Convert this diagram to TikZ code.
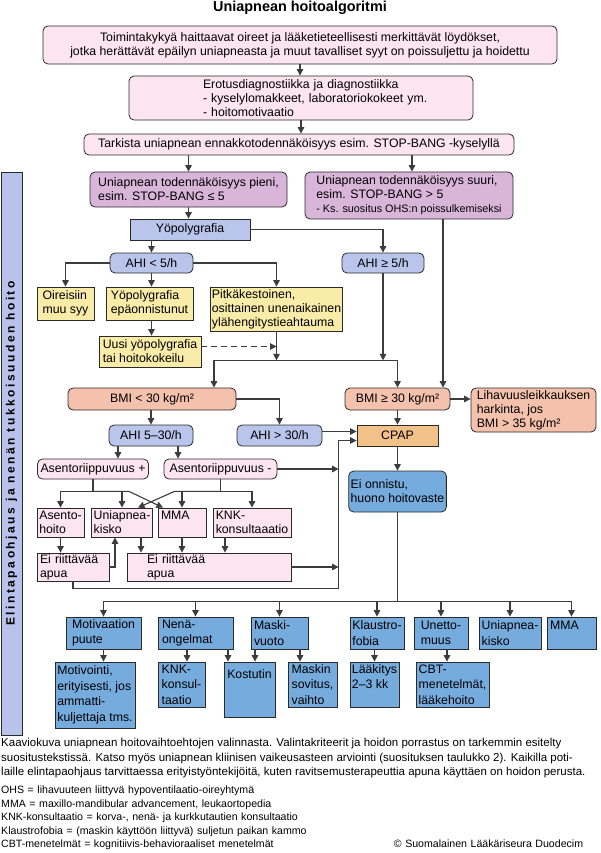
\documentclass[tikz,border=0pt]{standalone}
\usepackage{fontspec}
\setmainfont{Liberation Sans}
\newfontfamily\palkkifont[LetterSpace=21]{Liberation Sans}
\usetikzlibrary{arrows.meta}
\definecolor{reuna}{HTML}{2A2A2A}
\definecolor{viivavari}{HTML}{3C3C3C}
\definecolor{vpun}{HTML}{FCE5EE}
\definecolor{viol}{HTML}{DAB5DA}
\definecolor{lav}{HTML}{B9C5EA}
\definecolor{kelt}{HTML}{F9EBA8}
\definecolor{lohi}{HTML}{F4C1AD}
\definecolor{ruskea}{HTML}{F2C089}
\definecolor{sin}{HTML}{76ABDE}
\definecolor{palkki}{HTML}{B8C2EA}

\begin{document}
\begin{tikzpicture}[x=1pt,y=-1pt,
  teksti/.style={font=\fontsize{12.3}{14}\selectfont, text=black},
  laatikko/.style={teksti, draw=reuna, line width=0.8pt, inner xsep=2pt, inner ysep=1pt, align=left},
  pyorea/.style={laatikko, rounded corners=5pt},
  wh/.style 2 args={minimum width=#1, minimum height=#2},
  sisennys/.style 2 args={text width=#1-4, execute at begin node={\leftskip=#2pt\relax}},
  pun/.style={pyorea, fill=vpun},
  punlaat/.style={laatikko, fill=vpun},
  viol/.style={pyorea, fill=viol},
  lavlaat/.style={laatikko, fill=lav},
  lavpyor/.style={pyorea, fill=lav},
  kelt/.style={laatikko, fill=kelt},
  lohi/.style={pyorea, fill=lohi},
  cpaplaat/.style={laatikko, fill=ruskea},
  sinpyor/.style={pyorea, fill=sin},
  sinlaat/.style={laatikko, fill=sin, font=\fontsize{12.3}{15.5}\selectfont},
  viiva/.style={draw=viivavari, line width=1.1pt},
  nuoli/.style={viiva, -{Triangle[length=6.5pt,width=6.5pt]}},
]
\useasboundingbox (0,0) rectangle (600,853);

% otsikko ja sivupalkki
\node[font=\fontsize{14.4}{16}\selectfont\bfseries] (otsikko) at (300,8) {Uniapnean hoitoalgoritmi};
\node[draw=reuna, line width=0.8pt, fill=palkki, rotate=90, minimum width=563, minimum height=21,
  font=\fontsize{12}{12}\palkkifont\bfseries] (palkki) at (11.5,453.5) {Elintapaohjaus ja nenän tukkoisuuden hoito};

% yläosa
\node[pun, wh={514}{38}, align=center] (oireet) at (300,45) {Toimintakykyä haittaavat oireet ja lääketieteellisesti merkittävät löydökset,\\jotka herättävät epäilyn uniapneasta ja muut tavalliset syyt on poissuljettu ja hoidettu};
\node[pun, wh={344}{44}, sisennys={344}{72}] (erotus) at (301,98) {Erotusdiagnostiikka ja diagnostiikka\\- kyselylomakkeet, laboratoriokokeet ym.\\- hoitomotivaatio};
\node[pun, wh={430}{21}, align=center] (tarkista) at (299,144.5) {Tarkista uniapnean ennakkotodennäköisyys esim. STOP-BANG -kyselyllä};
\node[viol, wh={197}{35}] (pieni) at (188.5,189.5) {Uniapnean todennäköisyys pieni,\\esim. STOP-BANG ≤ 5};
\node[viol, wh={208}{47}] (suuri) at (409,195.5) {Uniapnean todennäköisyys suuri,\\esim. STOP-BANG > 5\\{\fontsize{10.8}{12}\selectfont - Ks. suositus OHS:n poissulkemiseksi}};

% yöpolygrafia
\node[lavlaat, wh={120}{21}, align=center] (ypg) at (190,229.5) {Yöpolygrafia};
\node[lavpyor, wh={83}{20}, align=center] (ahialle5) at (151.5,263) {AHI < 5/h};
\node[lavpyor, wh={82}{20}, align=center] (ahiyli5) at (383,263) {AHI ≥ 5/h};
\node[kelt, wh={57}{33}] (muusyy) at (65.5,303.5) {Oireisiin\\muu syy};
\node[kelt, wh={87}{33}] (epaonn) at (149.5,303.5) {Yöpolygrafia\\epäonnistunut};
\node[kelt, wh={131}{44}, inner xsep=1pt] (pitka) at (276.5,309) {Pitkäkestoinen,\\osittainen unenaikainen\\ylähengitystieahtauma};
\node[kelt, wh={102}{31}] (uusi) at (150,351.5) {Uusi yöpolygrafia\\tai hoitokokeilu};

% BMI
\node[lohi, wh={168}{22}, align=center] (bmialle) at (152,399) {BMI < 30 kg/m²};
\node[lohi, wh={105}{22}, align=center] (bmiyli) at (397.5,399) {BMI ≥ 30 kg/m²};
\node[lohi, wh={125}{44}] (lihavuus) at (533.5,410) {Lihavuusleikkauksen\\harkinta, jos\\BMI > 35 kg/m²};
\node[lavpyor, wh={84}{21}, align=center] (ahi530) at (151,435.5) {AHI 5–30/h};
\node[lavpyor, wh={85}{21}, align=center] (ahiyli30) at (279.5,435.5) {AHI > 30/h};
\node[cpaplaat, wh={81}{21}, align=center] (cpap) at (397.5,435.5) {CPAP};
\node[pun, wh={111}{20}] (asplus) at (93,469) {Asentoriippuvuus +};
\node[pun, wh={113}{20}] (asmiinus) at (220.5,469) {Asentoriippuvuus -};
\node[sinpyor, wh={97}{41}] (eionnistu) at (397.5,491.5) {Ei onnistu,\\huono hoitovaste};

% hoitovaihtoehdot
\node[punlaat, wh={47}{29}] (asentohoito) at (60.5,522.5) {Asento-\\hoito};
\node[punlaat, wh={60}{29}] (kisko) at (122,522.5) {Uniapnea-\\kisko};
\node[punlaat, wh={48}{29}, sisennys={48}{1}] (mma) at (182,522.5) {MMA\\\mbox{}};
\node[punlaat, wh={78}{29}] (knk) at (252,522.5) {KNK-\\konsultaaatio};
\node[punlaat, wh={72}{28}, sisennys={72}{1}] (eiapua1) at (73,567) {Ei riittävää\\apua};
\node[punlaat, wh={164}{28}, sisennys={164}{18}] (eiapua2) at (209,567) {Ei riittävää\\apua};

% alaosa
\node[sinlaat, wh={75}{32}] (motiv) at (103.5,633) {Motivaation\\puute};
\node[sinlaat, wh={75}{32}, sisennys={75}{2}] (nena) at (195.5,633) {Nenä-\\ongelmat};
\node[sinlaat, wh={57}{32}, sisennys={57}{1}] (maski) at (279.5,633) {Maski-\\vuoto};
\node[sinlaat, wh={54}{32}] (klaustro) at (377,633) {Klaustro-\\fobia};
\node[sinlaat, wh={54}{32}] (unetto) at (441,633) {Unetto-\\muus};
\node[sinlaat, wh={62}{32}] (kisko2) at (510,633) {Uniapnea-\\kisko};
\node[sinlaat, wh={49}{32}, sisennys={49}{1}] (mma2) at (571.5,633) {MMA\\\mbox{}};
\node[sinlaat, wh={80}{66}, inner xsep=1pt] (motivointi) at (95,695) {Motivointi,\\erityisesti, jos\\ammatti-\\kuljettaja tms.};
\node[sinlaat, wh={47}{45}] (knk2) at (181.5,684.5) {KNK-\\konsul-\\taatio};
\node[sinlaat, wh={51}{55}] (kostutin) at (249.5,689.5) {Kostutin\\\mbox{}\\\mbox{}};
\node[sinlaat, wh={49}{45}] (maskin) at (312.5,684.5) {Maskin\\sovitus,\\vaihto};
\node[sinlaat, wh={47}{45}] (laakitys) at (374.5,684.5) {Lääkitys\\2–3 kk\\\mbox{}};
\node[sinlaat, wh={73}{45}] (cbt) at (452.5,684.5) {CBT-\\menetelmät,\\lääkehoito};

% yhteydet
\draw[nuoli] (oireet.south) -- (oireet.south |- erotus.north);
\draw[nuoli] (erotus.south) -- (erotus.south |- tarkista.north);
\draw[nuoli] (pieni.north |- tarkista.south) -- (pieni.north);
\draw[nuoli] ([xshift=3]suuri.north |- tarkista.south) -- ([xshift=3]suuri.north);
\draw[nuoli] (pieni.south) -- (pieni.south |- ypg.north);
\draw[nuoli] (ahialle5.north |- ypg.south) -- (ahialle5.north);
\draw[nuoli] (ypg.east) -| (ahiyli5.north);
\draw[nuoli] (ahialle5.west) -| (muusyy.north);
\draw[nuoli] (ahialle5.south) -- (ahialle5.south |- epaonn.north);
\draw[nuoli] (ahialle5.east) -| (pitka.north);
\draw[nuoli] (ahialle5.south |- epaonn.south) -- (ahialle5.south |- uusi.north);
\draw[nuoli, dash pattern=on 6pt off 4pt] ([yshift=5]uusi.east) -- ([yshift=5]uusi.east -| pitka.south);
\coordinate (yhd) at ([yshift=-29]pitka.south);
\draw[nuoli] (pitka.south) -- (yhd);
\draw[nuoli] (ahiyli5.south) -- (ahiyli5.south |- yhd);
\draw[nuoli] (yhd) -| ([xshift=62]bmialle.north);
\draw[nuoli] (yhd) -| (bmiyli.north);
\draw[nuoli] ([xshift=34]suuri.south) -- ([xshift=34]suuri.south |- bmiyli.north);
\draw[nuoli] (bmiyli.east) -- (bmiyli.east -| lihavuus.west);
\draw[nuoli] (bmiyli.south) -- (cpap.north);
\draw[nuoli] (ahi530.north |- bmialle.south) -- (ahi530.north);
\draw[nuoli] (bmialle.east) -| (ahiyli30.north);
\draw[nuoli] ([yshift=4]ahiyli30.east) -- ([yshift=4]ahiyli30.east -| cpap.west);
\draw[nuoli] ([xshift=-33]ahi530.south) -- ([xshift=-33]ahi530.south |- asplus.north);
\draw[nuoli] ([xshift=27]ahi530.south) -- ([xshift=27]ahi530.south |- asmiinus.north);
\draw[nuoli] (cpap.south) -- (eionnistu.north);
\coordinate (kulma) at ([xshift=-18,yshift=-5]cpap.west);
\draw[nuoli] (asmiinus.east) -- (asmiinus.east -| kulma);
\draw[nuoli] (eiapua2.east) -- (eiapua2.east -| kulma);
\draw[nuoli] (eiapua1.south) -- ++(0,7) -| (kulma) -- (kulma -| cpap.west);

% asentoriippuvuus
\coordinate (jp) at ([yshift=-12]asplus.south);
\coordinate (jm) at ([yshift=-12]asmiinus.south);
\draw[viiva] (asplus.south) -- (jp);
\draw[nuoli] (jp) -| (asentohoito.north);
\draw[nuoli] (jp) -| (kisko.north);
\draw[nuoli] (jp) -- ([xshift=36]jp) -- ([xshift=-19]mma.north);
\draw[viiva] (asmiinus.south) -- (jm);
\draw[nuoli] (jm) -| (mma.north);
\draw[nuoli] (jm) -| (knk.north);
\draw[nuoli] (jm) -- ([xshift=-46]jm) -- ([xshift=16]kisko.north);
\draw[nuoli] (asentohoito.south) -- (asentohoito.south |- eiapua1.north);
\draw[nuoli] (eiapua1.east) -| ([xshift=-7]kisko.south);
\draw[nuoli] ([xshift=19]kisko.south) -- ([xshift=19]kisko.south |- eiapua2.north);
\draw[nuoli] (mma.south) -- (mma.south |- eiapua2.north);
\draw[nuoli] ([xshift=-27]knk.south) -- ([xshift=-27]knk.south |- eiapua2.north);

% CPAP ei onnistu
\coordinate (jako) at ([yshift=-89]eionnistu.south);
\draw[viiva] (eionnistu.south) -- (jako);
\foreach \n in {motiv,nena,maski,klaustro,unetto,kisko2,mma2}
  \draw[nuoli] (jako) -| (\n.north);
\draw[nuoli] (motiv.south) -- (motiv.south |- motivointi.north);
\draw[nuoli] ([xshift=-8.5]nena.south) -- ([xshift=-8.5]nena.south |- knk2.north);
\draw[nuoli] ([xshift=32.5]nena.south) -- ([xshift=32.5]nena.south |- kostutin.north);
\draw[nuoli] ([xshift=-24.5]maski.south) -- ([xshift=-24.5]maski.south |- kostutin.north);
\draw[nuoli] ([xshift=20.5]maski.south) -- ([xshift=20.5]maski.south |- maskin.north);
\draw[nuoli] (laakitys.north |- klaustro.south) -- (laakitys.north);
\draw[nuoli] ([xshift=6]unetto.south) -- ([xshift=6]unetto.south |- cbt.north);

% kuvateksti
\node[anchor=north west, align=left, inner sep=0pt, font=\fontsize{11.5}{14.5}\selectfont] (kuvateksti) at (1,738)
  {Kaaviokuva uniapnean hoitovaihtoehtojen valinnasta. Valintakriteerit ja hoidon porrastus on tarkemmin esitelty\\
   suositustekstissä. Katso myös uniapnean kliinisen vaikeusasteen arviointi (suosituksen taulukko 2). Kaikilla poti-\\
   laille elintapaohjaus tarvittaessa erityistyöntekijöitä, kuten ravitsemusterapeuttia apuna käyttäen on hoidon perusta.};
\node[anchor=north west, align=left, inner sep=0pt, text width=582, font=\fontsize{10.6}{13.5}\selectfont] (lyhenteet) at (1,786)
  {OHS = lihavuuteen liittyvä hypoventilaatio-oireyhtymä\\
   MMA = maxillo-mandibular advancement, leukaortopedia\\
   KNK-konsultaatio = korva-, nenä- ja kurkkutautien konsultaatio\\
   Klaustrofobia = (maskin käyttöön liittyvä) suljetun paikan kammo\\
   CBT-menetelmät = kognitiivis-behavioraaliset menetelmät\hfill © Suomalainen Lääkäriseura Duodecim};
\end{tikzpicture}
\end{document}
